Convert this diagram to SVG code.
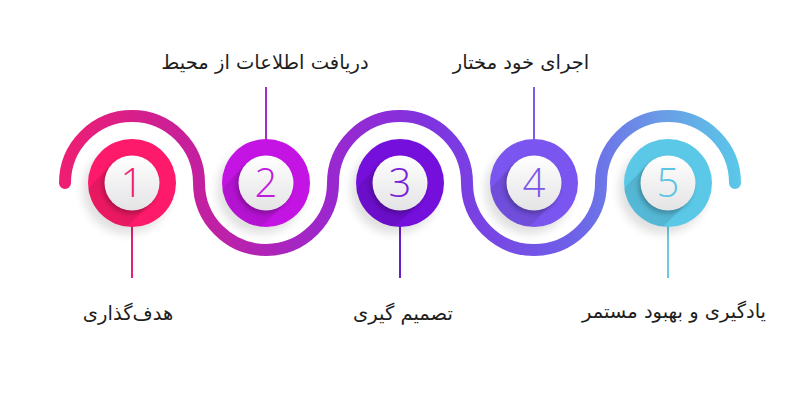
<svg xmlns="http://www.w3.org/2000/svg" width="800" height="400" viewBox="0 0 800 400">
<defs>
<linearGradient id="wave" gradientUnits="userSpaceOnUse" x1="60" y1="0" x2="740" y2="0">
<stop offset="0" stop-color="#ee1e72"/>
<stop offset="0.2" stop-color="#c4209e"/>
<stop offset="0.4" stop-color="#9a28cf"/>
<stop offset="0.55" stop-color="#7e34e0"/>
<stop offset="0.75" stop-color="#6e60e8"/>
<stop offset="0.88" stop-color="#6a9ae6"/>
<stop offset="1" stop-color="#5ac8e8"/>
</linearGradient>
<linearGradient id="inner" x1="0" y1="0" x2="0" y2="1">
<stop offset="0" stop-color="#ffffff"/>
<stop offset="1" stop-color="#e4e4e6"/>
</linearGradient>
<linearGradient id="long" x1="1" y1="0" x2="0" y2="1">
<stop offset="0.3" stop-color="#000" stop-opacity="0.12"/>
<stop offset="1" stop-color="#000" stop-opacity="0"/>
</linearGradient>
<filter id="soft" x="-50%" y="-50%" width="200%" height="200%">
<feGaussianBlur stdDeviation="5"/>
</filter>
<filter id="isoft" x="-50%" y="-50%" width="200%" height="200%">
<feGaussianBlur stdDeviation="2"/>
</filter>
<clipPath id="c1"><circle cx="132" cy="183" r="44"/></clipPath>
<clipPath id="c2"><circle cx="266" cy="183" r="44"/></clipPath>
<clipPath id="c3"><circle cx="400" cy="183" r="44"/></clipPath>
<clipPath id="c4"><circle cx="534" cy="183" r="44"/></clipPath>
<clipPath id="c5"><circle cx="668" cy="183" r="44"/></clipPath>
</defs>
<style>
.dshadow{fill:#000;opacity:0.12;filter:url(#soft)}
.ishadow{fill:#000;opacity:0.22;filter:url(#isoft)}
.inner{fill:url(#inner)}
.longs{fill:url(#long)}
.num{font-family:"Open Sans","Liberation Sans",sans-serif;font-size:40px;font-weight:300;text-anchor:middle}
.lbl{font-family:"DejaVu Sans","Noto Sans",sans-serif;font-size:19.5px;fill:#1e1e1e;text-anchor:middle}
.conn{stroke-width:2;fill:none}
</style>
<g id="wave-path">
<path d="M 65 183 A 67 67 0 0 1 199 183 A 67 67 0 0 0 333 183 A 67 67 0 0 1 467 183 A 67 67 0 0 0 601 183 A 67 67 0 0 1 735 183" fill="none" stroke="url(#wave)" stroke-width="12" stroke-linecap="round"/>
</g>
<g id="connectors">
<line class="conn" x1="132" y1="226" x2="132" y2="278" stroke="#e3207a"/>
<line class="conn" x1="266" y1="87" x2="266" y2="139" stroke="#a82ac6"/>
<line class="conn" x1="400" y1="226" x2="400" y2="278" stroke="#6a1ec8"/>
<line class="conn" x1="534" y1="87" x2="534" y2="139" stroke="#7b5ce8"/>
<line class="conn" x1="668" y1="226" x2="668" y2="278" stroke="#6ccbe0"/>
</g>
<g id="node1">
<circle class="dshadow" cx="127" cy="190" r="44"/>
<circle cx="132" cy="183" r="44" fill="#fe1a6a"/>
<polygon class="longs" clip-path="url(#c1)" points="151.4,202.4 112.6,163.6 62.6,213.6 101.4,252.4"/>
<circle class="ishadow" cx="130" cy="186" r="27.5"/>
<circle class="inner" cx="132" cy="183" r="27.5"/>
<text class="num" x="132" y="197" fill="#f0206e">1</text>
<text class="lbl" x="128" y="320">هدف&#8204;گذاری</text>
</g>
<g id="node2">
<circle class="dshadow" cx="261" cy="190" r="44"/>
<circle cx="266" cy="183" r="44" fill="#c414e4"/>
<polygon class="longs" clip-path="url(#c2)" points="285.4,202.4 246.6,163.6 196.6,213.6 235.4,252.4"/>
<circle class="ishadow" cx="264" cy="186" r="27.5"/>
<circle class="inner" cx="266" cy="183" r="27.5"/>
<text class="num" x="266" y="197" fill="#c01ae0">2</text>
<text class="lbl" x="265" y="69">دریافت اطلاعات از محیط</text>
</g>
<g id="node3">
<circle class="dshadow" cx="395" cy="190" r="44"/>
<circle cx="400" cy="183" r="44" fill="#750fdc"/>
<polygon class="longs" clip-path="url(#c3)" points="419.4,202.4 380.6,163.6 330.6,213.6 369.4,252.4"/>
<circle class="ishadow" cx="398" cy="186" r="27.5"/>
<circle class="inner" cx="400" cy="183" r="27.5"/>
<text class="num" x="400" y="197" fill="#7a20d8">3</text>
<text class="lbl" x="403" y="320">تصمیم گیری</text>
</g>
<g id="node4">
<circle class="dshadow" cx="529" cy="190" r="44"/>
<circle cx="534" cy="183" r="44" fill="#7a55ef"/>
<polygon class="longs" clip-path="url(#c4)" points="553.4,202.4 514.6,163.6 464.6,213.6 503.4,252.4"/>
<circle class="ishadow" cx="532" cy="186" r="27.5"/>
<circle class="inner" cx="534" cy="183" r="27.5"/>
<text class="num" x="534" y="197" fill="#7a55ea">4</text>
<text class="lbl" x="521" y="69">اجرای خود مختار</text>
</g>
<g id="node5">
<circle class="dshadow" cx="663" cy="190" r="44"/>
<circle cx="668" cy="183" r="44" fill="#5bc8e8"/>
<polygon class="longs" clip-path="url(#c5)" points="687.4,202.4 648.6,163.6 598.6,213.6 637.4,252.4"/>
<circle class="ishadow" cx="666" cy="186" r="27.5"/>
<circle class="inner" cx="668" cy="183" r="27.5"/>
<text class="num" x="668" y="197" fill="#5bc4e4">5</text>
<text class="lbl" x="674" y="318">یادگیری و بهبود مستمر</text>
</g>
</svg>
